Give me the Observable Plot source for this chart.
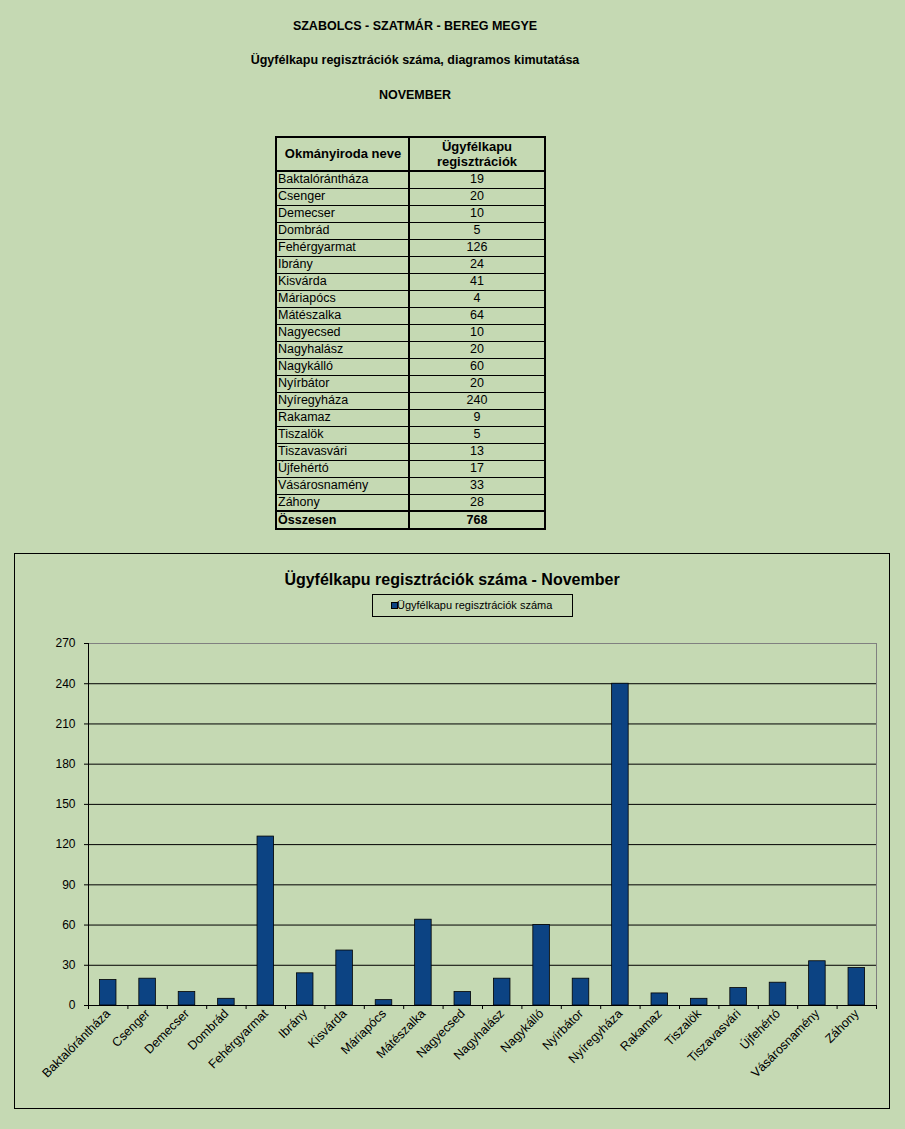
<!DOCTYPE html>
<html><head><meta charset="utf-8">
<script src="https://cdn.jsdelivr.net/npm/d3@7"></script>
<script src="https://cdn.jsdelivr.net/npm/@observablehq/plot@0.6"></script>
<style>
body{margin:0;background:#c5d9b3;font-family:Arial,"Liberation Sans",sans-serif;color:#000;}
#page{position:relative;width:905px;height:1129px;overflow:hidden;background:#c5d9b3;}
.t{position:absolute;left:0;width:830px;text-align:center;font-weight:bold;font-size:12.5px;line-height:16px;}
#tbl{position:absolute;left:275px;top:136px;width:271px;height:394px;font-size:12.5px;}
#tbl .frame{position:absolute;left:0;top:0;width:271px;height:394px;border:2px solid #000;box-sizing:border-box;}
#tbl .hl{position:absolute;left:0;width:271px;background:#000;}
#tbl .vl{position:absolute;top:0;height:394px;left:133px;width:2px;background:#000;}
#tbl .c1{position:absolute;left:3px;width:128px;white-space:nowrap;}
#tbl .c2{position:absolute;left:135px;width:134px;text-align:center;}
#box{position:absolute;left:14px;top:553px;width:876px;height:556px;border:1px solid #000;box-sizing:border-box;}
#ctitle{position:absolute;left:0;top:16px;width:874px;text-align:center;font-weight:bold;font-size:16px;line-height:20px;}
#legend{position:absolute;left:357px;top:40px;width:201px;height:23px;border:1px solid #000;box-sizing:border-box;font-size:11px;}
#legend .sw{position:absolute;left:18px;top:7px;width:5px;height:5px;background:#0c4383;border:1px solid #000;}
#legend .lt{position:absolute;left:24px;top:0;line-height:21px;white-space:nowrap;}
#chart{position:absolute;left:0;top:76px;}
</style></head>
<body><div id="page">
<div class="t" style="top:18px">SZABOLCS - SZATMÁR - BEREG MEGYE</div>
<div class="t" style="top:52px">Ügyfélkapu regisztrációk száma, diagramos kimutatása</div>
<div class="t" style="top:87px">NOVEMBER</div>
<div id="tbl"></div>
<div id="box">
  <div id="ctitle">Ügyfélkapu regisztrációk száma - November</div>
  <div id="legend"><div class="sw"></div><div class="lt">Ügyfélkapu regisztrációk száma</div></div>
  <div id="chart"></div>
</div>
</div>
<script>
const names = ["Baktalórántháza","Csenger","Demecser","Dombrád","Fehérgyarmat","Ibrány","Kisvárda","Máriapócs","Mátészalka","Nagyecsed","Nagyhalász","Nagykálló","Nyírbátor","Nyíregyháza","Rakamaz","Tiszalök","Tiszavasvári","Újfehértó","Vásárosnamény","Záhony"];
const values = [19,20,10,5,126,24,41,4,64,10,20,60,20,240,9,5,13,17,33,28];
const totalLabel = "Összesen";
const totalValue = 768;
const headerCol1 = "Okmányiroda neve";
const headerCol2 = ["Ügyfélkapu","regisztrációk"];
const yTicks = [0,30,60,90,120,150,180,210,240,270];

// ---- table ----
const tbl = document.getElementById("tbl");
const HEAD = 35, ROW = 17;
let html = "";
html += `<div class="c1" style="top:0;height:${HEAD}px;line-height:${HEAD}px;font-weight:bold;font-size:13px;text-align:center;width:130px">${headerCol1}</div>`;
html += `<div class="c2" style="top:3px;line-height:15px;font-weight:bold;font-size:13px">${headerCol2.join("<br>")}</div>`;
names.forEach((n,i)=>{
  const top = HEAD + ROW*i;
  html += `<div class="c1" style="top:${top}px;line-height:${ROW}px">${n}</div>`;
  html += `<div class="c2" style="top:${top}px;line-height:${ROW}px">${values[i]}</div>`;
  if (i>0) html += `<div class="hl" style="top:${top}px;height:1px"></div>`;
});
const totTop = HEAD + ROW*names.length;
html += `<div class="hl" style="top:${HEAD-1}px;height:2px"></div>`;
html += `<div class="hl" style="top:${totTop-1}px;height:2px"></div>`;
html += `<div class="c1" style="top:${totTop}px;line-height:19px;font-weight:bold">${totalLabel}</div>`;
html += `<div class="c2" style="top:${totTop}px;line-height:19px;font-weight:bold">${totalValue}</div>`;
html += `<div class="vl"></div><div class="frame"></div>`;
tbl.innerHTML = html;

// ---- chart ----
const W = 874, H = 478, ML = 73, MR = 13, MT = 13, MB = 103;
const step = (W - ML - MR) / names.length;
const data = names.map((n,i)=>({name:n, value:values[i]}));
const chart = Plot.plot({
  width: W, height: H,
  marginLeft: ML, marginRight: MR, marginTop: MT, marginBottom: MB,
  style: {background: "transparent", fontFamily: "Arial, 'Liberation Sans', sans-serif", fontSize: "12px", color: "#000", overflow: "visible"},
  x: {domain: names, paddingInner: 0.58, paddingOuter: 0.29, align: 0.5, round: false, label: null},
  y: {domain: [0, 270], label: null},
  marks: [
    Plot.frame({stroke: "#808080"}),
    Plot.ruleY(yTicks.filter(v => v > 0 && v < 270), {stroke: "#000", strokeWidth: 1}),
    Plot.barY(data, {x: "name", y: "value", fill: "#0c4383", stroke: "#000", strokeWidth: 0.8}),
    Plot.ruleY([0], {stroke: "#000"}),
    Plot.ruleX([names[0]], {dx: -step/2, stroke: "#000"}),
    Plot.ruleX(names, {dx: -step/2, y1: 0, y2: 0, insetBottom: -4, stroke: "#000"}),
    Plot.ruleX([names[names.length-1]], {dx: step/2, y1: 0, y2: 0, insetBottom: -4, stroke: "#000"}),
    Plot.axisY(yTicks, {tickSize: 4, tickPadding: 9, stroke: "#000", fill: "#000", fontSize: 12}),
    Plot.axisX({tickRotate: -45, tickSize: 0, tickPadding: 6, fill: "#000", fontSize: 12.5})
  ]
});
document.getElementById("chart").appendChild(chart);
</script>
</body></html>
